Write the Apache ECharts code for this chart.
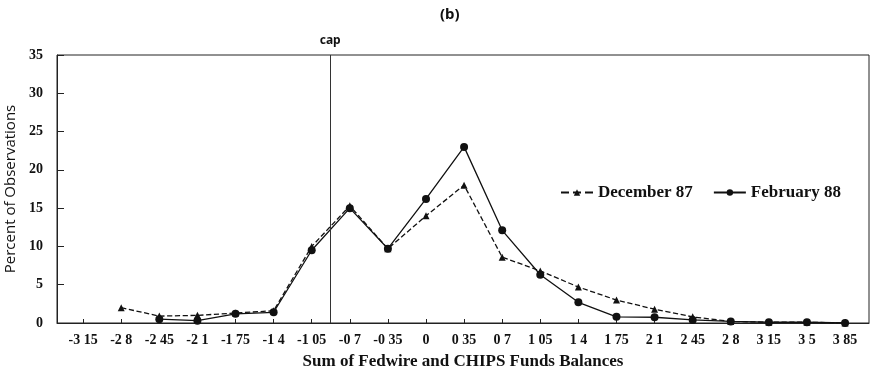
<!DOCTYPE html>
<html>
<head>
<meta charset="utf-8">
<script src="https://cdn.jsdelivr.net/npm/echarts@6/dist/echarts.min.js"></script>
<style>
  html, body { margin: 0; padding: 0; background: #fff; }
  #chart { width: 870px; height: 369px; }
</style>
</head>
<body>
<div id="chart"></div>
<script>
// x positions (balances) and their printed tick labels
var xVals = [-3.15, -2.8, -2.45, -2.1, -1.75, -1.4, -1.05, -0.7, -0.35, 0, 0.35, 0.7, 1.05, 1.4, 1.75, 2.1, 2.45, 2.8, 3.15, 3.5, 3.85];
var tickLabels = ['-3 15', '-2 8', '-2 45', '-2 1', '-1 75', '-1 4', '-1 05', '-0 7', '-0 35', '0', '0 35', '0 7', '1 05', '1 4', '1 75', '2 1', '2 45', '2 8', '3 15', '3 5', '3 85'];

// percent of observations, null = no point
var dec87 = [null, 2.0, 0.9, 1.0, 1.3, 1.6, 10.0, 15.3, 9.7, 14.0, 18.0, 8.6, 6.8, 4.7, 3.0, 1.8, 0.8, 0.2, 0.1, 0.1, 0.0];
var feb88 = [null, null, 0.5, 0.3, 1.2, 1.4, 9.5, 15.0, 9.7, 16.2, 23.0, 12.1, 6.3, 2.7, 0.8, 0.75, 0.4, 0.2, 0.1, 0.1, 0.0];
var capValue = -0.88;

function pairs(vals) {
    var out = [];
    for (var i = 0; i < xVals.length; i++) {
        if (vals[i] !== null) out.push([xVals[i], vals[i]]);
    }
    return out;
}

var chart = echarts.init(document.getElementById('chart'));
var option = {
    animation: false,
    backgroundColor: '#fff',
    title: {
        text: '(b)',
        left: 435,
        top: 2,
        textStyle: { fontFamily: 'Noto Sans', fontSize: 15, fontWeight: 'bold', color: '#111' }
    },
    grid: {
        left: 57, right: 1, top: 55, bottom: 46,
        outerBoundsMode: 'none',
        containLabel: false,
        show: true, borderColor: '#222', borderWidth: 1
    },
    legend: {
        left: 555,
        top: 179,
        itemWidth: 32,
        itemHeight: 8,
        itemGap: 20,
        textStyle: { fontFamily: 'Liberation Serif', fontSize: 17, fontWeight: 'bold', color: '#111' },
        data: ['December 87', 'February 88']
    },
    xAxis: {
        type: 'value',
        min: -3.39,
        max: 4.07,
        splitLine: { show: false },
        axisLine: { onZero: false, lineStyle: { color: '#222' } },
        axisTick: { inside: true, length: 4, customValues: xVals, lineStyle: { color: '#222' } },
        axisLabel: {
            customValues: xVals,
            margin: 10,
            fontFamily: 'Liberation Serif',
            fontSize: 14,
            fontWeight: 'bold',
            color: '#111',
            formatter: function (v) {
                var i = Math.round((v - xVals[0]) / 0.35);
                return tickLabels[i];
            }
        },
        name: 'Sum of Fedwire and CHIPS Funds Balances',
        nameLocation: 'middle',
        nameGap: 30,
        nameTextStyle: { fontFamily: 'Liberation Serif', fontSize: 17, fontWeight: 'bold', color: '#111' }
    },
    yAxis: {
        type: 'value',
        min: 0,
        max: 35,
        interval: 5,
        splitLine: { show: false },
        axisLine: { show: true, onZero: false, lineStyle: { color: '#222' } },
        axisTick: { inside: true, length: 7, lineStyle: { color: '#222' } },
        axisLabel: { fontFamily: 'Liberation Serif', fontSize: 14, fontWeight: 'bold', color: '#111', margin: 14 },
        name: 'Percent of Observations',
        nameLocation: 'middle',
        nameGap: 37,
        nameTextStyle: { fontFamily: 'Open Sans', fontSize: 15, color: '#111' }
    },
    series: [
        {
            name: 'December 87',
            type: 'line',
            data: pairs(dec87),
            symbol: 'triangle',
            symbolSize: 7,
            color: '#111',
            lineStyle: { type: 'dashed', width: 1.3, color: '#111' },
            itemStyle: { color: '#111' },
            markLine: {
                silent: true,
                symbol: 'none',
                lineStyle: { type: 'solid', color: '#333', width: 1 },
                label: {
                    show: true,
                    position: 'end',
                    formatter: 'cap',
                    distance: 8,
                    fontFamily: 'Noto Sans',
                    fontSize: 12,
                    fontWeight: 'bold',
                    color: '#111'
                },
                data: [{ xAxis: capValue }]
            }
        },
        {
            name: 'February 88',
            type: 'line',
            data: pairs(feb88),
            symbol: 'circle',
            symbolSize: 8,
            color: '#111',
            lineStyle: { type: 'solid', width: 1.3, color: '#111' },
            itemStyle: { color: '#111' }
        }
    ]
};
chart.setOption(option);
</script>
</body>
</html>
